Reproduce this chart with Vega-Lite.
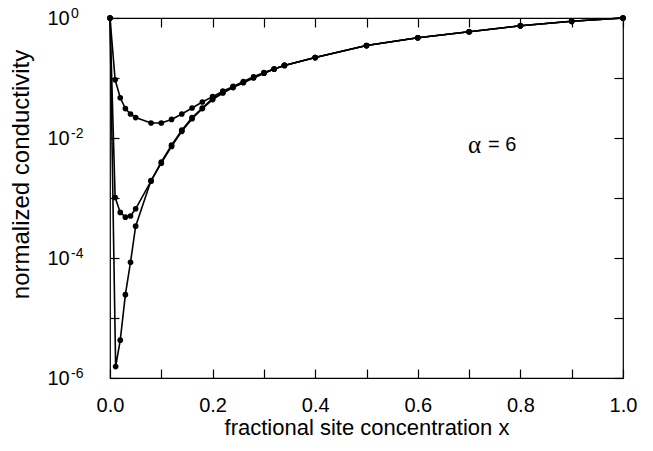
{
  "$schema": "https://vega.github.io/schema/vega-lite/v6.json",
  "width": 513,
  "height": 360,
  "autosize": "none",
  "padding": {"left": 110, "top": 18, "right": 30, "bottom": 73},
  "background": "white",
  "config": {
    "view": {"stroke": "black", "strokeWidth": 1.2},
    "font": "Liberation Sans",
    "axis": {
      "grid": false,
      "domain": false,
      "tickColor": "black",
      "tickSize": -9,
      "tickWidth": 1.2,
      "labelColor": "black",
      "titleColor": "black",
      "labelFont": "Liberation Sans",
      "titleFont": "Liberation Sans",
      "labelFontSize": 20,
      "titleFontSize": 22,
      "titleFontWeight": "normal"
    }
  },
  "datasets": {
    "curves": [
      {"series": "A", "x": 0.0, "y": 1.0},
      {"series": "A", "x": 0.01, "y": 0.0933},
      {"series": "A", "x": 0.02, "y": 0.0468},
      {"series": "A", "x": 0.03, "y": 0.0309},
      {"series": "A", "x": 0.04, "y": 0.0251},
      {"series": "A", "x": 0.05, "y": 0.0219},
      {"series": "A", "x": 0.08, "y": 0.0178},
      {"series": "A", "x": 0.10, "y": 0.0178},
      {"series": "A", "x": 0.12, "y": 0.0204},
      {"series": "A", "x": 0.14, "y": 0.0251},
      {"series": "A", "x": 0.16, "y": 0.0316},
      {"series": "A", "x": 0.18, "y": 0.0398},
      {"series": "A", "x": 0.20, "y": 0.0490},
      {"series": "A", "x": 0.22, "y": 0.0603},
      {"series": "A", "x": 0.24, "y": 0.0724},
      {"series": "A", "x": 0.26, "y": 0.0871},
      {"series": "A", "x": 0.28, "y": 0.105},
      {"series": "A", "x": 0.30, "y": 0.123},
      {"series": "A", "x": 0.32, "y": 0.141},
      {"series": "A", "x": 0.34, "y": 0.162},
      {"series": "A", "x": 0.40, "y": 0.219},
      {"series": "A", "x": 0.50, "y": 0.347},
      {"series": "A", "x": 0.60, "y": 0.468},
      {"series": "A", "x": 0.70, "y": 0.589},
      {"series": "A", "x": 0.80, "y": 0.741},
      {"series": "A", "x": 0.90, "y": 0.881},
      {"series": "A", "x": 1.00, "y": 1.0},

      {"series": "B", "x": 0.0, "y": 1.0},
      {"series": "B", "x": 0.01, "y": 0.00102},
      {"series": "B", "x": 0.02, "y": 0.000575},
      {"series": "B", "x": 0.03, "y": 0.000479},
      {"series": "B", "x": 0.04, "y": 0.000501},
      {"series": "B", "x": 0.05, "y": 0.000661},
      {"series": "B", "x": 0.08, "y": 0.00191},
      {"series": "B", "x": 0.10, "y": 0.00398},
      {"series": "B", "x": 0.12, "y": 0.00759},
      {"series": "B", "x": 0.14, "y": 0.0135},
      {"series": "B", "x": 0.16, "y": 0.0219},
      {"series": "B", "x": 0.18, "y": 0.0316},
      {"series": "B", "x": 0.20, "y": 0.0457},
      {"series": "B", "x": 0.22, "y": 0.0575},
      {"series": "B", "x": 0.24, "y": 0.0708},
      {"series": "B", "x": 0.26, "y": 0.0851},
      {"series": "B", "x": 0.28, "y": 0.102},
      {"series": "B", "x": 0.30, "y": 0.120},
      {"series": "B", "x": 0.32, "y": 0.141},
      {"series": "B", "x": 0.34, "y": 0.162},
      {"series": "B", "x": 0.40, "y": 0.219},
      {"series": "B", "x": 0.50, "y": 0.347},
      {"series": "B", "x": 0.60, "y": 0.468},
      {"series": "B", "x": 0.70, "y": 0.589},
      {"series": "B", "x": 0.80, "y": 0.741},
      {"series": "B", "x": 0.90, "y": 0.881},
      {"series": "B", "x": 1.00, "y": 1.0},

      {"series": "C", "x": 0.0, "y": 1.0},
      {"series": "C", "x": 0.011, "y": 0.00000155},
      {"series": "C", "x": 0.02, "y": 0.00000427},
      {"series": "C", "x": 0.03, "y": 0.0000245},
      {"series": "C", "x": 0.04, "y": 0.0000851},
      {"series": "C", "x": 0.05, "y": 0.000339},
      {"series": "C", "x": 0.08, "y": 0.00195},
      {"series": "C", "x": 0.10, "y": 0.0038},
      {"series": "C", "x": 0.12, "y": 0.00724},
      {"series": "C", "x": 0.14, "y": 0.0129},
      {"series": "C", "x": 0.16, "y": 0.0209},
      {"series": "C", "x": 0.18, "y": 0.0309},
      {"series": "C", "x": 0.20, "y": 0.0437},
      {"series": "C", "x": 0.22, "y": 0.0562},
      {"series": "C", "x": 0.24, "y": 0.0692},
      {"series": "C", "x": 0.26, "y": 0.0832},
      {"series": "C", "x": 0.28, "y": 0.1},
      {"series": "C", "x": 0.30, "y": 0.120},
      {"series": "C", "x": 0.32, "y": 0.141},
      {"series": "C", "x": 0.34, "y": 0.162},
      {"series": "C", "x": 0.40, "y": 0.219},
      {"series": "C", "x": 0.50, "y": 0.347},
      {"series": "C", "x": 0.60, "y": 0.468},
      {"series": "C", "x": 0.70, "y": 0.589},
      {"series": "C", "x": 0.80, "y": 0.741},
      {"series": "C", "x": 0.90, "y": 0.881},
      {"series": "C", "x": 1.00, "y": 1.0}
    ],
    "exps": [
      {"x": 0, "y": 1, "e": "0"},
      {"x": 0, "y": 0.01, "e": "-2"},
      {"x": 0, "y": 0.0001, "e": "-4"},
      {"x": 0, "y": 0.000001, "e": "-6"}
    ],
    "alpha": [{"x": 0.698, "y": 0.0076, "label": "α"}],
    "eq": [{"x": 0.737, "y": 0.0076, "label": "= 6"}]
  },
  "layer": [
    {
      "data": {"name": "curves"},
      "mark": {"type": "line", "color": "black", "strokeWidth": 1.6, "clip": false},
      "encoding": {
        "x": {
          "field": "x", "type": "quantitative",
          "scale": {"domain": [0, 1], "nice": false, "zero": false},
          "axis": {
            "orient": "bottom",
            "values": [0, 0.1, 0.2, 0.3, 0.4, 0.5, 0.6, 0.7, 0.8, 0.9, 1.0],
            "labelExpr": "round(datum.value*10) % 2 == 0 ? format(datum.value, '.1f') : ''",
            "labelPadding": 26,
            "labelFlush": false,
            "title": "fractional site concentration x",
            "titlePadding": 2
          }
        },
        "y": {
          "field": "y", "type": "quantitative",
          "scale": {"type": "log", "domain": [0.000001, 1], "nice": false},
          "axis": {
            "orient": "left",
            "values": [0.000001, 0.00001, 0.0001, 0.001, 0.01, 0.1, 1],
            "labelExpr": "round(log(datum.value)/LN10) % 2 == 0 ? '10' : ''",
            "labelAlign": "left",
            "labelPadding": 72,
            "labelFlush": false,
            "title": "normalized conductivity",
            "titleFontSize": 24,
            "titleAngle": -90,
            "titleX": -82,
            "titleY": 156,
            "titleAlign": "center",
            "titleBaseline": "alphabetic"
          }
        },
        "detail": {"field": "series"}
      }
    },
    {
      "data": {"name": "curves"},
      "mark": {"type": "circle", "color": "black", "opacity": 1, "size": 32, "clip": false},
      "encoding": {
        "x": {"field": "x", "type": "quantitative", "axis": {"orient": "top", "values": [0, 0.1, 0.2, 0.3, 0.4, 0.5, 0.6, 0.7, 0.8, 0.9, 1.0], "labels": false, "title": null}},
        "y": {"field": "y", "type": "quantitative", "axis": {"orient": "right", "values": [0.000001, 0.00001, 0.0001, 0.001, 0.01, 0.1, 1], "labels": false, "title": null}}
      }
    },
    {
      "data": {"name": "exps"},
      "mark": {"type": "text", "align": "left", "baseline": "middle", "fontSize": 14, "font": "Liberation Sans", "color": "black", "dx": -39, "dy": -4, "clip": false},
      "encoding": {
        "x": {"field": "x", "type": "quantitative", "axis": null},
        "y": {"field": "y", "type": "quantitative", "axis": null},
        "text": {"field": "e"}
      }
    },
    {
      "data": {"name": "alpha"},
      "mark": {"type": "text", "align": "left", "baseline": "middle", "fontSize": 25, "font": "Liberation Serif", "color": "black"},
      "encoding": {
        "x": {"field": "x", "type": "quantitative", "axis": null},
        "y": {"field": "y", "type": "quantitative", "axis": null},
        "text": {"field": "label"}
      }
    },
    {
      "data": {"name": "eq"},
      "mark": {"type": "text", "align": "left", "baseline": "middle", "fontSize": 20, "font": "Liberation Sans", "color": "black"},
      "encoding": {
        "x": {"field": "x", "type": "quantitative", "axis": null},
        "y": {"field": "y", "type": "quantitative", "axis": null},
        "text": {"field": "label"}
      }
    }
  ],
  "resolve": {"axis": {"x": "independent", "y": "independent"}}
}
